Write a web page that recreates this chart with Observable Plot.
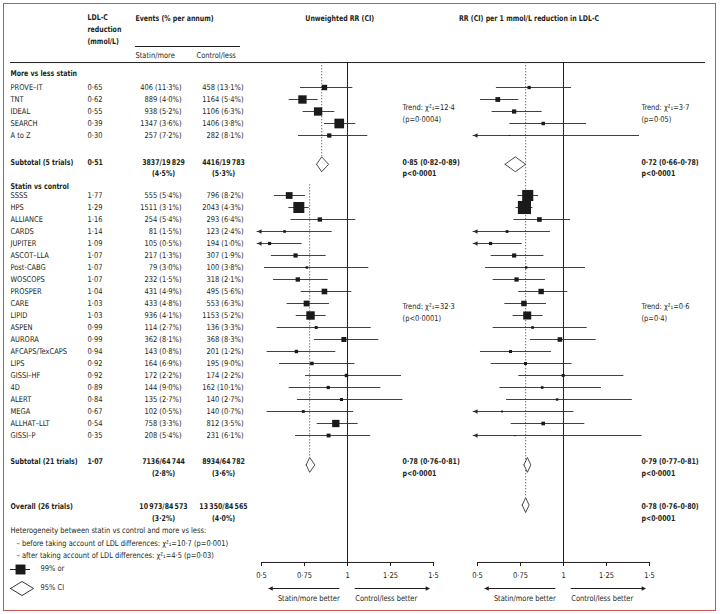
<!DOCTYPE html>
<html><head><meta charset="utf-8">
<script src="https://cdn.jsdelivr.net/npm/d3@7"></script>
<script src="https://cdn.jsdelivr.net/npm/@observablehq/plot@0.6"></script>
<style>
body{margin:0;background:#fff;}
#fig{position:relative;width:720px;height:614px;overflow:hidden;}
#fig>*{position:absolute;left:0;top:0;}
#frame{left:3px;top:3px;width:713px;height:608px;border:1px solid #c4574f;box-sizing:border-box;}
#underline{left:135px;top:46px;width:105px;height:0;border-top:1px solid #231f20;}
</style></head>
<body><div id="fig"><div id="frame"></div><div id="underline"></div></div>
<script>
// ---------------- DATA ----------------
const moreLessTrials = ["PROVE–IT","TNT","IDEAL","SEARCH","A to Z"];
const moreLessLdl = [0.65,0.62,0.55,0.39,0.30];
const moreLessStatinEvents = [406,889,938,1347,257];
const moreLessStatinPct = [11.3,4.0,5.2,3.6,7.2];
const moreLessControlEvents = [458,1164,1106,1406,282];
const moreLessControlPct = [13.1,5.4,6.3,3.8,8.1];
const moreLessRR = [0.866,0.738,0.829,0.952,0.894];
const moreLessRRLo = [0.727,0.661,0.742,0.866,0.715];
const moreLessRRHi = [1.031,0.829,0.926,1.048,1.118];
const moreLessPerMmol = [0.80,0.618,0.713,0.882,0.686];
const moreLessPerMmolLo = [0.61,0.517,0.585,0.688,0.33];
const moreLessPerMmolHi = [1.047,0.74,0.876,1.134,1.442];

const statinTrials = ["SSSS","HPS","ALLIANCE","CARDS","JUPITER","ASCOT–LLA","Post-CABG","WOSCOPS","PROSPER","CARE","LIPID","ASPEN","AURORA","AFCAPS/TexCAPS","LIPS","GISSI–HF","4D","ALERT","MEGA","ALLHAT–LLT","GISSI–P"];
const statinLdl = [1.77,1.29,1.16,1.14,1.09,1.07,1.07,1.07,1.04,1.03,1.03,0.99,0.99,0.94,0.92,0.92,0.89,0.84,0.67,0.54,0.35];
const statinStatinEvents = [555,1511,254,81,105,217,79,232,431,433,936,114,362,143,164,172,144,135,102,758,208];
const statinStatinPct = [5.4,3.1,5.4,1.5,0.5,1.3,3.0,1.5,4.9,4.8,4.1,2.7,8.1,0.8,6.9,2.2,9.0,2.7,0.5,3.3,5.4];
const statinControlEvents = [796,2043,293,123,194,307,100,318,495,553,1153,136,368,201,195,174,162,140,140,812,231];
const statinControlPct = [8.2,4.3,6.4,2.4,1.0,1.9,3.8,2.1,5.6,6.3,5.2,3.3,8.3,1.2,9.0,2.2,10.1,2.7,0.7,3.5,6.1];
const statinRR = [0.661,0.717,0.839,0.634,0.547,0.698,0.764,0.711,0.866,0.762,0.785,0.818,0.979,0.703,0.793,0.994,0.888,0.965,0.743,0.932,0.890];
const statinRRLo = [0.576,0.659,0.672,0.441,0.407,0.558,0.517,0.570,0.731,0.649,0.702,0.591,0.808,0.533,0.605,0.756,0.661,0.709,0.533,0.824,0.698];
const statinRRHi = [0.756,0.777,1.048,0.911,0.736,0.876,1.124,0.888,1.025,0.895,0.876,1.138,1.182,0.932,1.043,1.314,1.194,1.322,1.036,1.062,1.135];
const statinPerMmol = [0.792,0.773,0.860,0.672,0.576,0.713,0.783,0.727,0.870,0.770,0.789,0.820,0.979,0.692,0.779,0.998,0.876,0.963,0.643,0.882,0.717];
const statinPerMmolLo = [0.735,0.724,0.711,0.488,0.438,0.580,0.547,0.591,0.740,0.659,0.707,0.591,0.808,0.517,0.580,0.740,0.630,0.669,0.391,0.696,0.358];
const statinPerMmolHi = [0.855,0.822,1.041,0.924,0.760,0.886,1.128,0.895,1.025,0.901,0.882,1.138,1.190,0.930,1.050,1.351,1.221,1.400,1.060,1.124,1.457];

const summaryLabels = ["Subtotal (5 trials)","Subtotal (21 trials)","Overall (26 trials)"];
const summaryLdl = [0.51,1.07,null];
const summaryStatinEvents = [3837,7136,10973];
const summaryStatinN = [19829,64744,84573];
const summaryStatinPct = [4.5,2.8,3.2];
const summaryControlEvents = [4416,8934,13350];
const summaryControlN = [19783,64782,84565];
const summaryControlPct = [5.3,3.6,4.0];
const summaryRR = [[0.85,0.82,0.89],[0.78,0.76,0.81],null];
const summaryPerMmol = [[0.72,0.66,0.78],[0.79,0.77,0.81],[0.78,0.76,0.80]];
const summaryP = ["p<0·0001","p<0·0001","p<0·0001"];

const trendRR = [["Trend: χ²₁=12·4","(p=0·0004)"],["Trend: χ²₁=32·3","(p<0·0001)"]];
const trendPerMmol = [["Trend: χ²₁=3·7","(p=0·05)"],["Trend: χ²₁=0·6","(p=0·4)"]];

const heterogeneityLines = ["Heterogeneity between statin vs control and more vs less:","– before taking account of LDL differences: χ²₁=10·7 (p=0·001)","– after taking account of LDL differences: χ²₁=4·5 (p=0·03)"];
const legendLabels = ["99% or","95% CI"];
const axisTicks = [0.5,0.75,1,1.25,1.5];

// ---------------- LAYOUT / STYLE ----------------
const FONT = '"Liberation Sans Narrow","DejaVu Sans Condensed","Roboto",sans-serif';
const INK = "#231f20";
const fmt = (v,d) => v.toFixed(d).replace(".", "·");
const big = n => n >= 10000 ? d3.format(",")(n).replace(",", "\u2009") : String(n);

const trials = [];
moreLessTrials.forEach((name,i) => trials.push({name, row: 2+i, ldl: moreLessLdl[i],
  se: moreLessStatinEvents[i], sp: moreLessStatinPct[i], ce: moreLessControlEvents[i], cp: moreLessControlPct[i],
  rr: moreLessRR[i], rrLo: moreLessRRLo[i], rrHi: moreLessRRHi[i],
  pm: moreLessPerMmol[i], pmLo: moreLessPerMmolLo[i], pmHi: moreLessPerMmolHi[i]}));
statinTrials.forEach((name,i) => trials.push({name, row: 11+i, ldl: statinLdl[i],
  se: statinStatinEvents[i], sp: statinStatinPct[i], ce: statinControlEvents[i], cp: statinControlPct[i],
  rr: statinRR[i], rrLo: statinRRLo[i], rrHi: statinRRHi[i],
  pm: statinPerMmol[i], pmLo: statinPerMmolLo[i], pmHi: statinPerMmolHi[i]}));
trials.forEach(d => { d.w1 = d.se + d.ce; d.w2 = d.w1 * d.ldl * d.ldl;
  d.ldlText = fmt(d.ldl,2); d.statinText = `${d.se} (${fmt(d.sp,1)}%)`; d.controlText = `${d.ce} (${fmt(d.cp,1)}%)`; });

const summaryRows = [8.25, 33.17, 36.92];
const diamondRows = [8.4, 33.45, 36.8];
const summaries = summaryLabels.map((label,i) => ({label, row: summaryRows[i], drow: diamondRows[i],
  ldlText: summaryLdl[i] == null ? "" : fmt(summaryLdl[i],2),
  s1: `${big(summaryStatinEvents[i])}/${big(summaryStatinN[i])}`, s2: `(${fmt(summaryStatinPct[i],1)}%)`,
  c1: `${big(summaryControlEvents[i])}/${big(summaryControlN[i])}`, c2: `(${fmt(summaryControlPct[i],1)}%)`,
  rr: summaryRR[i], pm: summaryPerMmol[i], p: summaryP[i]}));

const Y = {domain:[0,45], range:[63,603], axis:null, label:null};
const AXIS_ROW = 41.58, TOP_ROW = -0.08, DH = 0.62;
const LOW = 0.5, TIP = 0.475;
const txt = {fill: INK, fontSize: 8};

const triLeft = {draw(ctx, size){ const r = Math.sqrt(size/Math.PI); ctx.moveTo(0,0); ctx.lineTo(1.9*r,-r); ctx.lineTo(1.9*r,r); ctx.closePath(); }};
const triRight = {draw(ctx, size){ const r = Math.sqrt(size/Math.PI); ctx.moveTo(0,0); ctx.lineTo(-1.9*r,-r); ctx.lineTo(-1.9*r,r); ctx.closePath(); }};

function diamondPoints(list, h) {
  const pts = [];
  list.forEach((s,k) => { if (!s.est) return; const [e,lo,hi] = s.est; const c = s.row;
    [[lo,c],[e,c-h],[hi,c],[e,c+h],[lo,c]].forEach(([x,y]) => pts.push({id:k, x, y})); });
  return pts;
}

function panel(xRange, est, lo, hi, weight, rMax, sumKey, trends, title, titleX, textX, dotted) {
  const sums = summaries.map(s => ({row: s.drow, est: s[sumKey]}));
  const sumText = summaries.filter(s => s[sumKey]);
  return Plot.plot({
    width:720, height:614, marginTop:0, marginBottom:614-562, marginLeft:0, marginRight:0,
    style:{fontFamily:FONT, fontSize:"8px", color:INK, background:"transparent", overflow:"visible"},
    x:{domain:[0.5,1.5], range:xRange, label:null},
    y:Y,
    r:{type:"sqrt", domain:[0, d3.max(trials, weight)], range:[0, rMax]},
    marks:[
      Plot.ruleX([1], {y1: TOP_ROW, y2: AXIS_ROW, stroke: INK, strokeWidth: 1}),
      Plot.ruleX(dotted, {x:"x", y1:"y1", y2:"y2", stroke:"#666", strokeWidth:1, strokeDasharray:"1.3,1.7"}),
      Plot.ruleY(trials, {y:"row", x1: d => lo(d) < LOW ? TIP : lo(d), x2: hi, stroke:"#2b2b2b", strokeWidth:0.9}),
      Plot.dot(trials.filter(d => lo(d) < LOW), {x: () => TIP, y:"row", symbol: triLeft, r: 2.3, fill:"#2b2b2b", stroke:"none"}),
      Plot.dot(trials, {x: est, y:"row", r: weight, symbol:"square", fill:"#1a1a1a", stroke:"none"}),
      Plot.line(diamondPoints(sums, DH), {x:"x", y:"y", z:"id", fill:"white", stroke:INK, strokeWidth:0.8}),
      Plot.text(sumText, {x: () => textX, y:"row", text: d => `${fmt(d[sumKey][0],2)} (${fmt(d[sumKey][1],2)}–${fmt(d[sumKey][2],2)})`, textAnchor:"start", fontWeight:"bold", ...txt}),
      Plot.text(sumText, {x: () => textX, y: d => d.row + 0.95, text:"p", textAnchor:"start", fontWeight:"bold", ...txt}),
      Plot.text(trends.map((t,i) => ({t: t[0], row: i === 0 ? 3.67 : 20.25})), {x: () => textX, y:"row", text:"t", textAnchor:"start", ...txt}),
      Plot.text(trends.map((t,i) => ({t: t[1], row: i === 0 ? 4.67 : 21.25})), {x: () => textX, y:"row", text:"t", textAnchor:"start", ...txt}),
      Plot.text([title], {x: () => titleX, y: () => -3.75, text: d => d, textAnchor:"middle", fontWeight:"bold", ...txt}),
      Plot.ruleY([AXIS_ROW], {x1: d3.min(axisTicks), x2: d3.max(axisTicks), stroke: INK, strokeWidth: 1}),
      Plot.axisX({ticks: axisTicks, tickFormat: d => String(d).replace(".", "·"), tickSize: 4, tickPadding: 6, fontSize: 8, stroke: INK, color: INK, label: null}),
      Plot.ruleY([43.75], {x1: 0.955, x2: 0.545, stroke: INK, strokeWidth: 1}),
      Plot.dot([0.54], {x: d => d, y: () => 43.75, symbol: triLeft, r: 2.3, fill: INK, stroke: "none"}),
      Plot.ruleY([43.75], {x1: 1.045, x2: 1.475, stroke: INK, strokeWidth: 1}),
      Plot.dot([1.48], {x: d => d, y: () => 43.75, symbol: triRight, r: 2.3, fill: INK, stroke: "none"}),
      Plot.text(["Statin/more better"], {x: () => 0.775, y: () => 44.55, text: d => d, ...txt}),
      Plot.text(["Control/less better"], {x: () => 1.225, y: () => 44.55, text: d => d, ...txt})
    ]
  });
}

const p1 = panel([261,433], d => d.rr, d => d.rrLo, d => d.rrHi, d => d.w1, 6.2, "rr", trendRR,
  "Unweighted RR (CI)", 0.955, 1.32,
  [{x: summaryRR[0][0], y1: TOP_ROW, y2: diamondRows[0]-DH},
   {x: summaryRR[1][0], y1: 10.1, y2: diamondRows[1]-DH}]);
const p2 = panel([477,649], d => d.pm, d => d.pmLo, d => d.pmHi, d => d.w2, 7.4, "pm", trendPerMmol,
  "RR (CI) per 1 mmol/L reduction in LDL-C", 0.80, 1.453,
  [{x: summaryPerMmol[2][0], y1: TOP_ROW, y2: diamondRows[2]-DH}]);

const L = {frameAnchor:"left", y:"row", ...txt};
const hetRows = [38.9, 40.0, 41.0];
const legendRows = [42.1, 43.7];
const table = Plot.plot({
  width:720, height:614, marginLeft:10, marginRight:15, marginTop:0, marginBottom:0,
  style:{fontFamily:FONT, fontSize:"8px", color:INK, background:"transparent", overflow:"visible"},
  y:Y,
  marks:[
    Plot.ruleY([TOP_ROW], {stroke: INK, strokeWidth: 1}),
    Plot.text([{t:"LDL-C",row:-3.83},{t:"reduction",row:-2.83},{t:"(mmol/L)",row:-1.83}], {...L, text:"t", dx:77, textAnchor:"start", fontWeight:"bold"}),
    Plot.text([{t:"Events (% per annum)",row:-3.75}], {...L, text:"t", dx:125, textAnchor:"start", fontWeight:"bold"}),
    Plot.text([{t:"Statin/more",row:-0.67}], {...L, text:"t", dx:125, textAnchor:"start"}),
    Plot.text([{t:"Control/less",row:-0.67}], {...L, text:"t", dx:186, textAnchor:"start"}),
    Plot.text([{t:"More vs less statin",row:0.83},{t:"Statin vs control",row:10.25}], {...L, text:"t", textAnchor:"start", fontWeight:"bold"}),
    Plot.text(trials, {...L, text:"name", textAnchor:"start"}),
    Plot.text(trials, {...L, text:"ldlText", dx:77, textAnchor:"start"}),
    Plot.text(trials, {...L, text:"statinText", dx:171, textAnchor:"end"}),
    Plot.text(trials, {...L, text:"controlText", dx:233, textAnchor:"end"}),
    Plot.text(summaries, {...L, text:"label", textAnchor:"start", fontWeight:"bold"}),
    Plot.text(summaries, {...L, text:"ldlText", dx:77, textAnchor:"start", fontWeight:"bold"}),
    Plot.text(summaries, {...L, text:"s1", dx:153, textAnchor:"middle", fontWeight:"bold"}),
    Plot.text(summaries, {...L, y: d => d.row+0.95, text:"s2", dx:153, textAnchor:"middle", fontWeight:"bold"}),
    Plot.text(summaries, {...L, text:"c1", dx:213, textAnchor:"middle", fontWeight:"bold"}),
    Plot.text(summaries, {...L, y: d => d.row+0.95, text:"c2", dx:213, textAnchor:"middle", fontWeight:"bold"}),
    Plot.text([{t: heterogeneityLines[0], row: hetRows[0]}], {...L, text:"t", textAnchor:"start"}),
    Plot.text(heterogeneityLines.slice(1).map((t,i) => ({t, row: hetRows[i+1]})), {...L, text:"t", dx:6, textAnchor:"start"}),
    Plot.text(legendLabels.map((t,i) => ({t, row: legendRows[i]})), {...L, text:"t", dx:30, textAnchor:"start"})
  ]
});

// legend glyphs
const legend = Plot.plot({
  width:40, height:40, margin:0,
  style:{background:"transparent", overflow:"visible"},
  x:{domain:[0,1], range:[2,25], axis:null, label:null},
  y:{domain:[0,1], range:[12,31], axis:null, label:null},
  marks:[
    Plot.ruleY([0], {x1:0, x2:0.87, stroke: INK, strokeWidth: 1}),
    Plot.dot([0.435], {x: d => d, y: () => 0, symbol:"square", r:5.6, fill:"#1a1a1a", stroke:"none"}),
    Plot.line(diamondPoints([{row:1, est:[0.5,0,1]}], 0.37), {x:"x", y:"y", z:"id", fill:"white", stroke:INK, strokeWidth:0.9})
  ]
});
legend.style.left = "8px"; legend.style.top = "557px";

// narrow the text horizontally to approach the condensed face of the original
function squeeze(svg) {
  svg.querySelectorAll("text").forEach(el => {
    const bold = !!el.closest('[font-weight="bold"]');
    const sx = bold ? 0.87 : 0.93;
    const x = +el.getAttribute("x") || 0, y = +el.getAttribute("y") || 0;
    const tr = el.getAttribute("transform") || "";
    el.setAttribute("transform", `${tr} translate(${x},${y}) scale(${sx},1) translate(${-x},${-y})`);
  });
}
[table, p1, p2].forEach(squeeze);

const fig = document.getElementById("fig");
[table, p1, p2, legend].forEach(el => { el.style.position = "absolute"; if (!el.style.left) { el.style.left = "0px"; el.style.top = "0px"; } fig.appendChild(el); });
</script></body></html>
